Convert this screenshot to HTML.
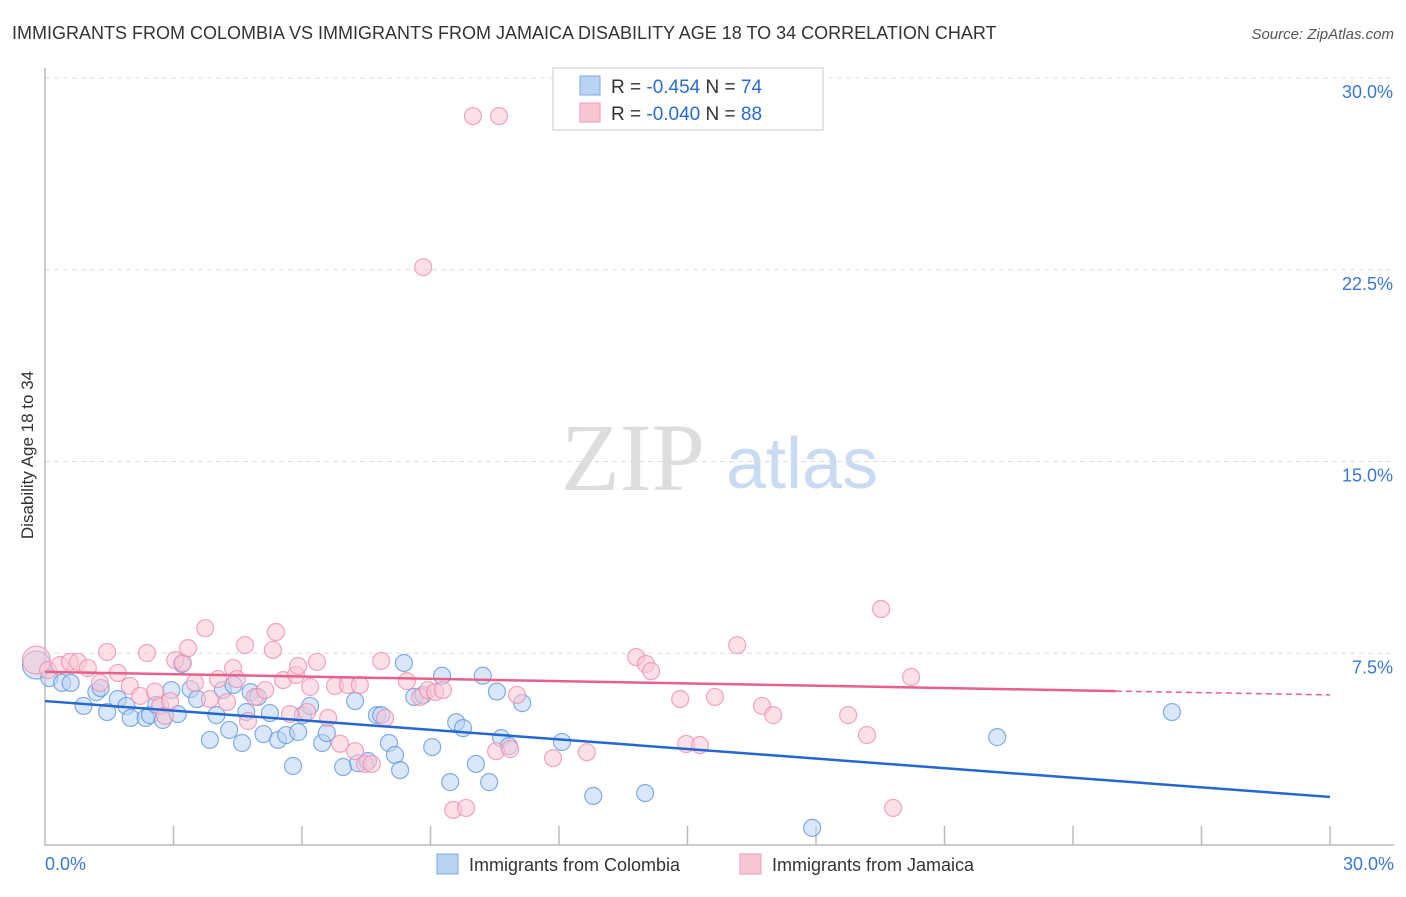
<!DOCTYPE html>
<html><head><meta charset="utf-8"><style>
body{margin:0;background:#fff;font-family:"Liberation Sans",sans-serif}
</style></head><body>
<svg width="1406" height="892" xmlns="http://www.w3.org/2000/svg" font-family="Liberation Sans, sans-serif">
<text x="12" y="39" font-size="18" fill="#333">IMMIGRANTS FROM COLOMBIA VS IMMIGRANTS FROM JAMAICA DISABILITY AGE 18 TO 34 CORRELATION CHART</text>
<text x="1394" y="39" font-size="15" fill="#555" font-style="italic" text-anchor="end">Source: ZipAtlas.com</text>
<g>
<text x="633" y="490" font-size="96" fill="#ddd" text-anchor="middle" font-family="Liberation Serif, serif">ZIP</text>
<text x="802" y="488" font-size="72" fill="#c9dbf3" text-anchor="middle">atlas</text>
</g>
<g id="grid"></g>
<g id="axes"></g>
<g id="pts"></g>
<g id="trend"></g>
<text transform="translate(33,455) rotate(-90)" font-size="17" fill="#333" text-anchor="middle">Disability Age 18 to 34</text>
<g>
<rect x="553" y="68" width="270" height="62" fill="#fff" stroke="#ccc"/>
<rect x="580" y="76" width="20" height="19" fill="#b9d3f3" stroke="#7aa7e6"/>
<rect x="580" y="103" width="20" height="19" fill="#f9c6d5" stroke="#ee9ab3"/>
<text x="611" y="93" font-size="19" fill="#333">R = <tspan fill="#2a6bd1">-0.454</tspan>   N = <tspan fill="#2a6bd1">74</tspan></text>
<text x="611" y="120" font-size="19" fill="#333">R = <tspan fill="#2a6bd1">-0.040</tspan>   N = <tspan fill="#2a6bd1">88</tspan></text>
</g>
<g>
<rect x="437" y="854" width="21" height="20" fill="#b9d3f3" stroke="#7aa7e6"/>
<text x="469" y="871" font-size="18" fill="#333">Immigrants from Colombia</text>
<rect x="740" y="854" width="21" height="20" fill="#f9c6d5" stroke="#ee9ab3"/>
<text x="772" y="871" font-size="18" fill="#333">Immigrants from Jamaica</text>
</g>
</svg>
<script>
const yTicks=[7.5,15,22.5,30];
const yTickLabels=["7.5%","15.0%","22.5%","30.0%"];
const xTickLabels=["0.0%","30.0%"];
const colombiaX=[-0.2,0.1,0.4,0.6,0.9,1.2,1.3,1.45,1.7,1.9,2.0,2.35,2.45,2.6,2.75,2.95,3.1,3.2,3.4,3.55,3.85,4.0,4.15,4.3,4.4,4.6,4.7,4.8,4.97,5.1,5.25,5.44,5.63,5.79,5.91,6.02,6.19,6.47,6.58,6.96,7.24,7.31,7.54,7.75,7.85,8.03,8.17,8.29,8.38,8.62,8.83,9.04,9.27,9.46,9.6,9.76,10.06,10.22,10.37,10.55,10.65,10.83,11.14,12.07,12.8,14.01,17.91,22.23,26.31];
const colombiaY=[7.04,6.53,6.34,6.34,5.44,5.98,6.14,5.2,5.71,5.44,4.97,4.97,5.08,5.48,4.89,6.06,5.12,7.08,6.1,5.71,4.11,5.08,6.06,4.5,6.26,3.99,5.2,5.98,5.79,4.34,5.16,4.11,4.3,3.09,4.42,5.08,5.44,3.99,4.38,3.05,5.63,3.2,3.28,5.08,5.08,3.99,3.52,2.93,7.12,5.79,5.87,3.83,6.62,2.46,4.8,4.57,3.17,6.62,2.46,6.0,4.18,3.87,5.55,4.03,1.92,2.03,0.67,4.22,5.2];
const jamaicaX=[-0.2,0.07,0.35,0.58,0.77,1.0,1.28,1.45,1.7,1.98,2.22,2.38,2.57,2.69,2.8,2.92,3.04,3.22,3.34,3.5,3.74,3.85,4.04,4.25,4.39,4.48,4.67,4.74,4.9,5.14,5.32,5.39,5.56,5.72,5.86,5.91,6.12,6.19,6.35,6.61,6.77,6.89,7.07,7.24,7.35,7.47,7.63,7.85,7.94,8.45,8.76,8.94,9.11,9.29,9.53,9.83,9.99,10.6,8.83,10.53,10.86,11.02,11.86,12.65,13.8,14.03,14.15,14.83,14.97,15.29,15.64,16.16,16.74,17.0,18.75,19.19,19.52,19.8,20.22];
const jamaicaY=[7.23,6.84,7.04,7.16,7.16,6.92,6.34,7.55,6.73,6.22,5.83,7.51,6.0,5.44,5.05,5.63,7.23,7.12,7.7,6.34,8.48,5.71,6.49,5.59,6.92,6.49,7.82,4.85,5.79,6.06,7.63,8.33,6.45,5.12,6.65,7.0,5.2,6.18,7.16,4.97,6.22,3.96,6.26,3.67,6.26,3.17,3.17,7.2,4.97,6.41,5.79,6.06,5.98,6.06,1.37,1.45,28.51,28.51,22.6,3.67,3.75,5.87,3.4,3.63,7.35,7.08,6.8,5.71,3.95,3.91,5.79,7.82,5.44,5.08,5.08,4.3,9.23,1.45,6.57];
const trendColombia=[5.63,1.88];
const trendJamaica=[6.77,6.02,5.87];
const NS="http://www.w3.org/2000/svg";
const X=v=>45+v*(1330-45)/30, Y=v=>845-v*(845-78)/30;
function mk(t,a,p){const e=document.createElementNS(NS,t);for(const k in a)e.setAttribute(k,a[k]);p.appendChild(e);return e;}
const grid=document.getElementById('grid'),axes=document.getElementById('axes'),pts=document.getElementById('pts'),tr=document.getElementById('trend');
yTicks.forEach((v,i)=>{
 const l=mk('line',{x1:45,x2:1394,y1:Y(v),y2:Y(v),stroke:'#ddd','stroke-dasharray':'5,4'},grid);
 
 
 const t=mk('text',{x:1393,y:Y(v)+20,'font-size':18,fill:'#3a78d6','text-anchor':'end'},axes);
 t.textContent=yTickLabels[i];
 
 
});
mk('line',{x1:45,x2:45,y1:68,y2:846,stroke:'#bbb','stroke-width':1.5},axes);
mk('line',{x1:45,x2:1394,y1:845,y2:845,stroke:'#bbb','stroke-width':1.5},axes);
for(let k=1;k<=10;k++){const tk=mk('line',{x1:X(k*3),x2:X(k*3),y1:826,y2:845,stroke:'#bbb','stroke-width':1.5},axes);
 
 }
[[0,45,'start'],[1,1394,'end']].forEach(([i,x,a])=>{const t=mk('text',{x:x,y:870,'font-size':18,fill:'#3a78d6','text-anchor':a},axes);t.textContent=xTickLabels[i];
 
 });
function series(xs,ys,fill,stroke,name){xs.forEach((x,i)=>{const r=i===0?14:8.5;
 const c=mk('circle',{cx:X(x),cy:Y(ys[i]),r:r,fill:fill,'fill-opacity':0.55,stroke:stroke,'stroke-opacity':0.75,'stroke-width':1.2},pts);
 
 });}
series(colombiaX,colombiaY,'#b9d3f3','#5b93e0','colombia-point');
series(jamaicaX,jamaicaY,'#f9c6d5','#ee8aa9','jamaica-point');
let l=mk('line',{x1:X(0),y1:Y(trendColombia[0]),x2:X(30),y2:Y(trendColombia[1]),stroke:'#2368d0','stroke-width':2.5},tr);


l=mk('line',{x1:X(0),y1:Y(trendJamaica[0]),x2:X(25),y2:Y(trendJamaica[1]),stroke:'#e8608a','stroke-width':2.5},tr);


l=mk('line',{x1:X(25),y1:Y(trendJamaica[1]),x2:X(30),y2:Y(trendJamaica[2]),stroke:'#e8608a','stroke-width':1.5,'stroke-dasharray':'6,4'},tr);


</script>
</body></html>
